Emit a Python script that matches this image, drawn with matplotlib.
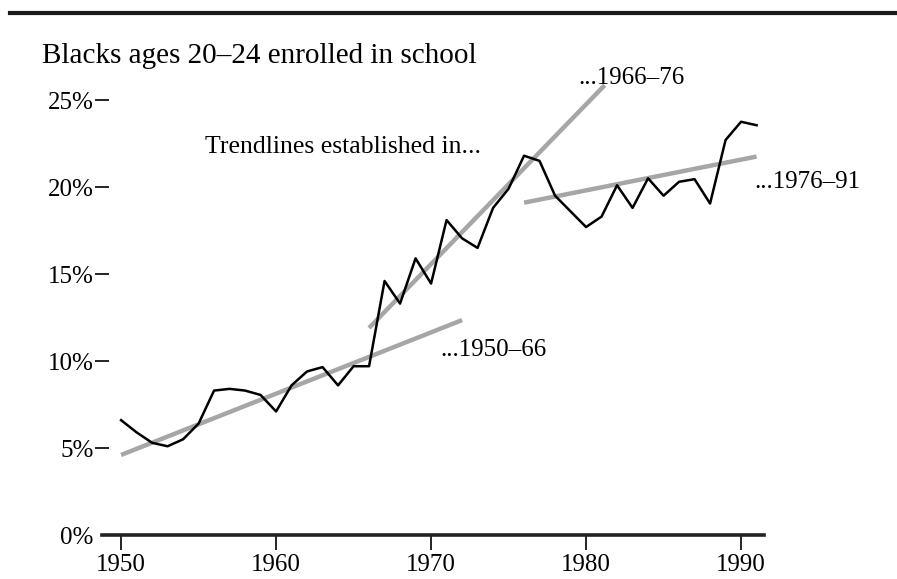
import matplotlib.pyplot as plt
from matplotlib.lines import Line2D

# Porcentaje de negros de 20-24 años inscritos en la escuela
years = list(range(1950, 1992))
enrolled = [6.6, 5.9, 5.3, 5.1, 5.5, 6.4, 8.3, 8.4, 8.3, 8.05,
            7.1, 8.6, 9.4, 9.65, 8.6, 9.7, 9.7, 14.6, 13.3, 15.9,
            14.45, 18.1, 17.05, 16.5, 18.8, 19.9, 21.8, 21.5, 19.5, 18.6,
            17.7, 18.3, 20.1, 18.8, 20.5, 19.5, 20.3, 20.45, 19.05, 22.7,
            23.75, 23.55]

# Líneas de tendencia: (año inicio, año fin, valor inicio, valor fin)
trend_labels = ['...1950–66', '...1966–76', '...1976–91']
trend_x = [(1950, 1972), (1966, 1981.2), (1976, 1991)]
trend_y = [(4.6, 12.35), (11.9, 25.85), (19.1, 21.75)]

yticks = [0, 5, 10, 15, 20, 25]
ytick_labels = ['0%', '5%', '10%', '15%', '20%', '25%']
xticks = [1950, 1960, 1970, 1980, 1990]

plt.rcParams['font.family'] = ['Liberation Serif', 'DejaVu Serif']

fig = plt.figure(figsize=(8.97, 5.79), dpi=100)
ax = fig.add_axes([102 / 897, 1 - 535 / 579, 662 / 897, 455 / 579])
ax.set_xlim(1948.77, 1991.48)
ax.set_ylim(0, 26.15)

for (x0, x1), (y0, y1) in zip(trend_x, trend_y):
    ax.plot([x0, x1], [y0, y1], color='#a6a6a6', lw=3.2, solid_capstyle='butt', zorder=1)

ax.plot(years, enrolled, color='black', lw=1.8, zorder=2)

for s in ['top', 'right', 'left']:
    ax.spines[s].set_visible(False)
ax.spines['bottom'].set_linewidth(2.6)
ax.spines['bottom'].set_color('#222222')

ax.set_yticks(yticks)
ax.set_yticklabels(ytick_labels)
ax.set_xticks(xticks)
ax.tick_params(axis='y', direction='inout', length=10, width=1.2, pad=1, labelsize=18)
ax.tick_params(axis='x', direction='out', length=11, width=1.2, pad=3, labelsize=18)
ax.yaxis.get_major_ticks()[0].tick1line.set_visible(False)

# etiquetas de las tendencias
ax.text(1970.58, 10.63, trend_labels[0], fontsize=18, va='center')
ax.text(1979.48, 26.26, trend_labels[1], fontsize=18, va='center', clip_on=False)
ax.text(1990.84, 20.29, trend_labels[2], fontsize=18, va='center', clip_on=False)
ax.text(1955.42, 22.3, 'Trendlines established in...', fontsize=18.5, va='center')

fig.text(42 / 897, 1 - 56 / 579, 'Blacks ages 20–24 enrolled in school', fontsize=21, va='center')
fig.add_artist(Line2D([10 / 897, 1], [1 - 13 / 579, 1 - 13 / 579], color='#1a1a1a', lw=3))

fig.savefig('out.png', dpi=100)
